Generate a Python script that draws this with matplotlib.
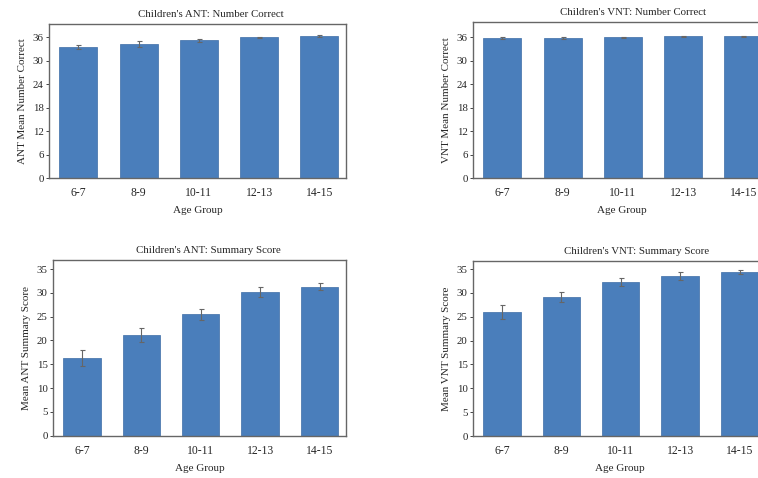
import matplotlib
matplotlib.use("Agg")
from matplotlib import pyplot as plt

plt.rcParams['font.family'] = ['Liberation Serif', 'DejaVu Serif']
plt.rcParams['font.size'] = 7.7

age_groups = ["6-7", "8-9", "10-11", "12-13", "14-15"]

# mean values and error bar half-lengths
ant_correct = [33.6, 34.3, 35.2, 36.0, 36.3]
ant_correct_err = [0.5, 0.7, 0.3, 0.2, 0.2]
vnt_correct = [35.8, 35.8, 36.0, 36.3, 36.3]
vnt_correct_err = [0.15, 0.15, 0.15, 0.15, 0.15]
ant_summary = [16.3, 21.2, 25.5, 30.2, 31.3]
ant_summary_err = [1.6, 1.5, 1.1, 1.0, 0.8]
vnt_summary = [26.0, 29.2, 32.3, 33.5, 34.35]
vnt_summary_err = [1.4, 1.0, 0.9, 0.85, 0.45]

bar_color = "#4a7ebb"
text_color = "#262626"

W, H = 758, 478
fig = plt.figure(figsize=(W / 100, H / 100), dpi=100)

panels = [
    # (px left, px top, px width, px height, values, errs, title, ylabel, yticks, ymax, title_x)
    (49.3, 24, 296.7, 154.3, ant_correct, ant_correct_err,
     "Children's ANT: Number Correct", "ANT Mean Number Correct", range(0, 37, 6), 39.4, 0.544),
    (473.3, 22, 296.7, 156.3, vnt_correct, vnt_correct_err,
     "Children's VNT: Number Correct", "VNT Mean Number Correct", range(0, 37, 6), 39.9, 0.537),
    (53.3, 260, 292.4, 175.7, ant_summary, ant_summary_err,
     "Children's ANT: Summary Score", "Mean ANT Summary Score", range(0, 36, 5), 36.9, 0.532),
    (473.3, 261, 292.4, 175.0, vnt_summary, vnt_summary_err,
     "Children's VNT: Summary Score", "Mean VNT Summary Score", range(0, 36, 5), 36.7, 0.56),
]

for left, top, width, height, vals, errs, title, ylabel, yticks, ymax, tx in panels:
    ax = fig.add_axes([left / W, 1 - (top + height) / H, width / W, height / H])
    x = range(len(age_groups))
    ax.bar(x, vals, width=0.63, color=bar_color, edgecolor="#3d6da6", linewidth=0.5,
           yerr=errs, error_kw=dict(ecolor="#666666", elinewidth=0.8, capsize=1.8, capthick=0.8))
    ax.set_xlim(-0.48, 4.44)
    ax.set_ylim(0, ymax)
    ax.set_xticks(list(x))
    ax.set_xticklabels(age_groups, fontsize=8.4, color=text_color)
    ax.set_yticks(list(yticks))
    ax.tick_params(axis="x", length=0, pad=6.5)
    ax.tick_params(axis="y", length=2.5, width=0.6, colors=text_color, pad=1.5, labelsize=7.8)
    for sp in ax.spines.values():
        sp.set_color("#666666")
        sp.set_linewidth(1.0)
    ax.set_title(title, x=tx, fontsize=7.8, color=text_color, pad=5)
    ax.set_xlabel("Age Group", fontsize=8.0, color=text_color, labelpad=5)
    ax.set_ylabel(ylabel, fontsize=8.0, color=text_color, labelpad=4)

fig.savefig("out.png", dpi=100)
